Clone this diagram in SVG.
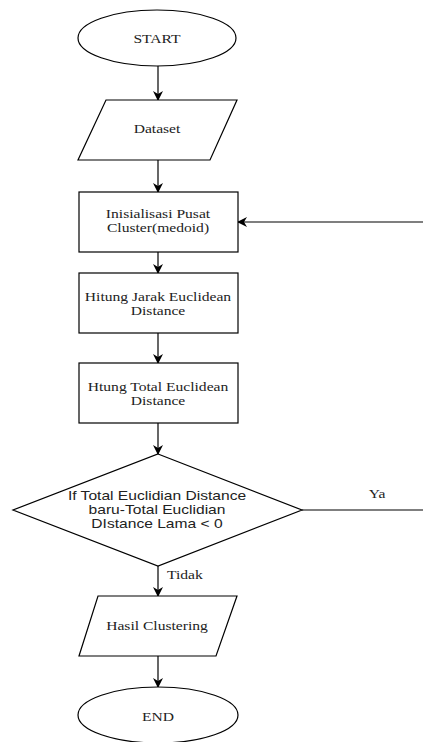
<svg xmlns="http://www.w3.org/2000/svg" width="423" height="742" viewBox="0 0 423 742">
<defs>
<style>
.s{fill:#fff;stroke:#000;stroke-width:1.2}
.c{fill:none;stroke:#000;stroke-width:1.2}
.t{font-family:"Liberation Serif","Times New Roman",serif;font-size:13px;fill:#222;text-anchor:middle}
.a{font-family:"Liberation Sans",Arial,sans-serif;font-size:12px;fill:#222;text-anchor:middle}
.l{text-anchor:start}
</style>
<marker id="ar" viewBox="0 0 10 10" refX="9" refY="5" markerWidth="10" markerHeight="10" markerUnits="userSpaceOnUse" orient="auto">
<path d="M0,0 L10,5 L0,10 L3,5 z" fill="#000"/>
</marker>
</defs>
<rect width="423" height="742" fill="#fff"/>
<g id="connectors">
<line class="c" x1="158" y1="66" x2="158" y2="100" marker-end="url(#ar)"/>
<line class="c" x1="158" y1="160" x2="158" y2="192" marker-end="url(#ar)"/>
<line class="c" x1="158" y1="252" x2="158" y2="273" marker-end="url(#ar)"/>
<line class="c" x1="158" y1="333" x2="158" y2="363" marker-end="url(#ar)"/>
<line class="c" x1="158" y1="423" x2="158" y2="454" marker-end="url(#ar)"/>
<line class="c" x1="158" y1="566" x2="158" y2="596" marker-end="url(#ar)"/>
<line class="c" x1="158" y1="656" x2="158" y2="687" marker-end="url(#ar)"/>
<line class="c" x1="302" y1="510" x2="423" y2="510"/>
<line class="c" x1="423" y1="222" x2="238" y2="222" marker-end="url(#ar)"/>
<text class="t" transform="translate(377,498) scale(1.2,1)">Ya</text>
<text class="t l" transform="translate(167,579) scale(1.2,1)">Tidak</text>
</g>
<g id="start">
<ellipse class="s" cx="157" cy="38" rx="79" ry="28"/>
<text class="t" transform="translate(157,43) scale(1.2,1)">START</text>
</g>
<g id="dataset">
<polygon class="s" points="106,100 237,100 210,160 78,160"/>
<text class="t" transform="translate(157,133) scale(1.2,1)">Dataset</text>
</g>
<g id="init">
<rect class="s" x="79" y="192" width="159" height="60"/>
<text class="t" transform="translate(158,218) scale(1.2,1)">Inisialisasi Pusat</text>
<text class="t" transform="translate(158,232) scale(1.2,1)">Cluster(medoid)</text>
</g>
<g id="hitung">
<rect class="s" x="79" y="273" width="159" height="60"/>
<text class="t" transform="translate(158,301) scale(1.2,1)">Hitung Jarak Euclidean</text>
<text class="t" transform="translate(158,315) scale(1.2,1)">Distance</text>
</g>
<g id="total">
<rect class="s" x="79" y="363" width="159" height="60"/>
<text class="t" transform="translate(158,391) scale(1.2,1)">Htung Total Euclidean</text>
<text class="t" transform="translate(158,405) scale(1.2,1)">Distance</text>
</g>
<g id="decision">
<polygon class="s" points="158,454 302,510 158,566 13,510"/>
<text class="a" transform="translate(157,500) scale(1.3,1)">If Total Euclidian Distance</text>
<text class="a" transform="translate(157,514) scale(1.3,1)">baru-Total Euclidian</text>
<text class="a" transform="translate(157,528) scale(1.3,1)">DIstance Lama &lt; 0</text>
</g>
<g id="hasil">
<polygon class="s" points="98,596 237,596 216,656 79,656"/>
<text class="t" transform="translate(157,630) scale(1.2,1)">Hasil Clustering</text>
</g>
<g id="end">
<ellipse class="s" cx="158" cy="715" rx="80" ry="28"/>
<text class="t" transform="translate(158,721) scale(1.2,1)">END</text>
</g>
</svg>
